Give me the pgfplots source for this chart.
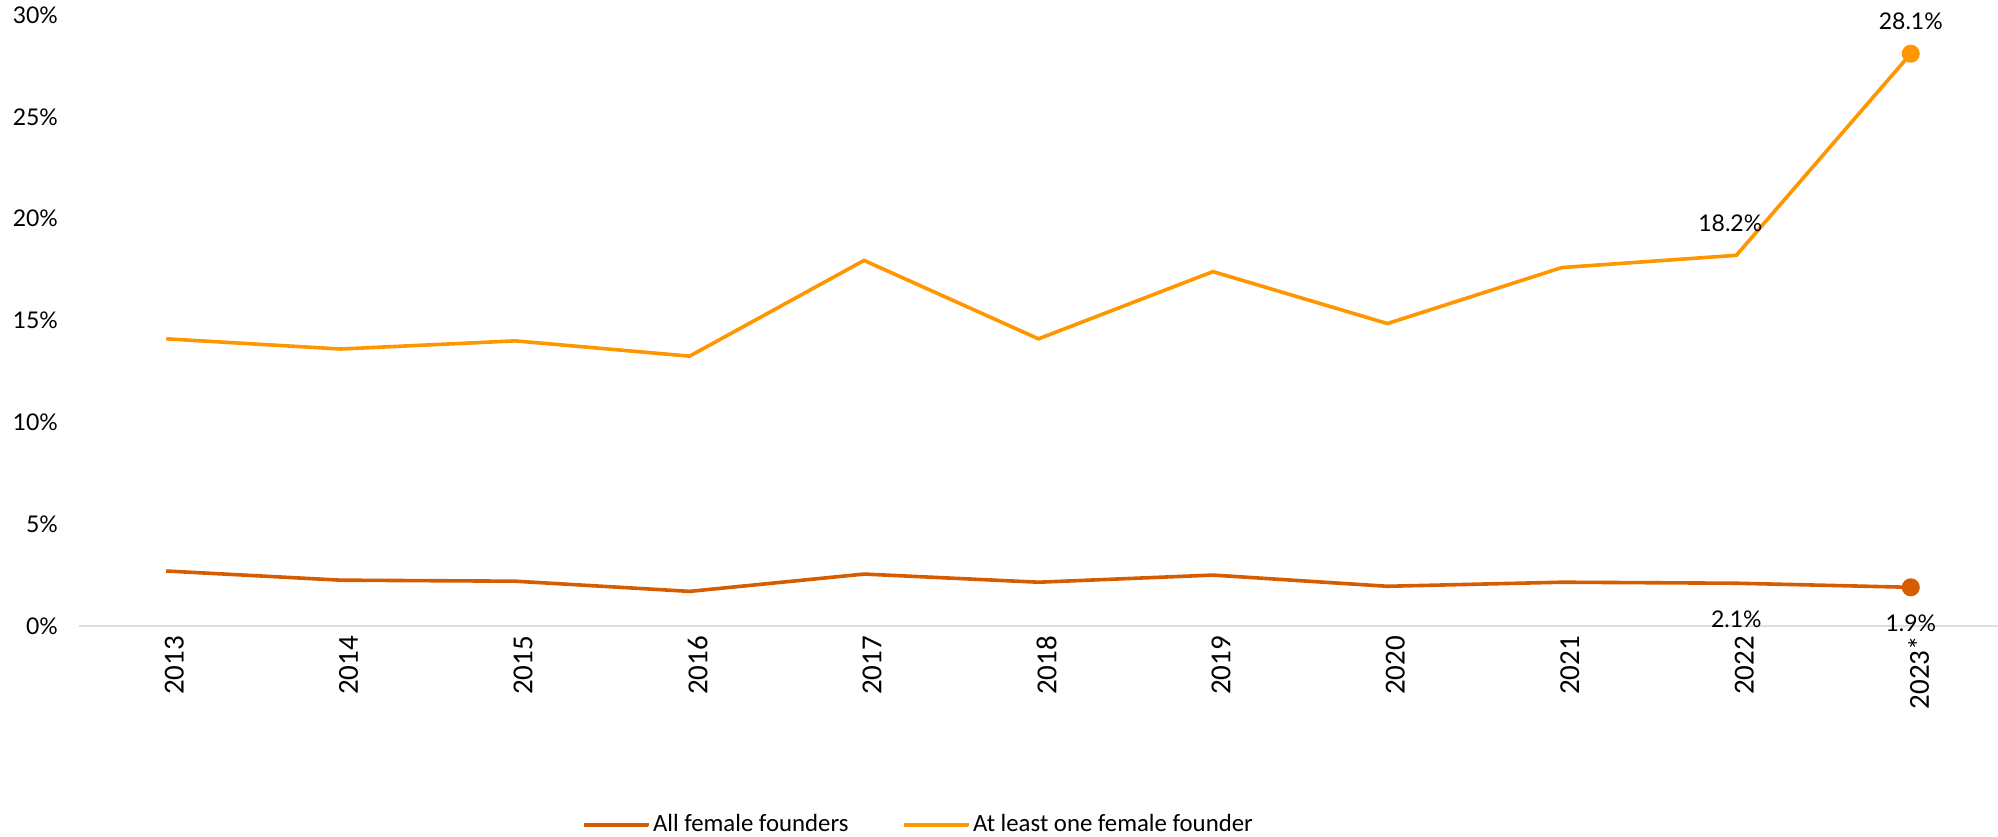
\documentclass[border=0pt]{standalone}
\usepackage{fontspec}
\setmainfont{Lato}
\newfontfamily\carlito{Carlito}
\usepackage{pgfplots}
\pgfplotsset{compat=1.18}
\definecolor{allf}{HTML}{D65C00}
\definecolor{onef}{HTML}{FF9600}
\begin{document}
\begin{tikzpicture}
\begin{axis}[
  scale only axis, width=959.5pt, height=305.5pt,
  xmin=-0.5, xmax=10.5, ymin=0, ymax=30,
  axis x line*=bottom, axis y line*=left,
  x axis line style={black!13, line width=1.2pt, -},
  y axis line style={draw=none},
  major tick length=0pt,
  xtick={0,...,10},
  xticklabels={2013,2014,2015,2016,2017,2018,2019,2020,2021,2022,2023*},
  xticklabel style={rotate=90, anchor=east, yshift=-4pt, xshift=-1.5pt, font=\carlito\fontsize{14.5}{16}\selectfont},
  ytick={0,5,...,30},
  yticklabels={0\%,5\%,10\%,15\%,20\%,25\%,30\%},
  yticklabel style={xshift=-7pt, font=\fontsize{11.5}{13}\selectfont},
  legend columns=2,
  legend style={draw=none, fill=none, at={(0.259,-0.325)}, anchor=west,
    font=\carlito\fontsize{12.4}{14}\selectfont,
    nodes={inner xsep=1pt},
    /tikz/every even column/.append style={column sep=26pt}},
  legend image code/.code={%
    \path (0pt,0pt) -- (32.5pt,0pt);
    \draw[#1, line width=2pt, overlay] (0pt,0pt) -- (32pt,0pt);},
  clip=false,
]
\addplot[allf, line width=1.8pt, mark=*, mark indices={11}, mark size=3.6pt]
  coordinates {(0,2.7)(1,2.25)(2,2.2)(3,1.7)(4,2.55)(5,2.15)(6,2.5)(7,1.95)(8,2.15)(9,2.1)(10,1.9)};
\addlegendentry{All female founders}
\addplot[onef, line width=1.8pt, mark=*, mark indices={11}, mark size=3.6pt]
  coordinates {(0,14.1)(1,13.6)(2,14.0)(3,13.25)(4,17.95)(5,14.1)(6,17.4)(7,14.85)(8,17.6)(9,18.2)(10,28.1)};
\addlegendentry{At least one female founder}
\node[font=\fontsize{11.5}{13}\selectfont] at (axis cs:10,28.1) [yshift=16pt] {28.1\%};
\node[font=\fontsize{11.5}{13}\selectfont] at (axis cs:9,18.2) [yshift=16pt, xshift=-3pt] {18.2\%};
\node[font=\fontsize{11.5}{13}\selectfont] at (axis cs:9,2.1) [yshift=-18pt] {2.1\%};
\node[font=\fontsize{11.5}{13}\selectfont] at (axis cs:10,1.9) [yshift=-18pt] {1.9\%};
\coordinate (bl) at (rel axis cs:-0.04117,-0.3437);
\coordinate (tr) at (rel axis cs:1,1.02455);
\end{axis}
\pgfresetboundingbox
\path[use as bounding box] (bl) rectangle (tr);
\end{tikzpicture}
\end{document}
